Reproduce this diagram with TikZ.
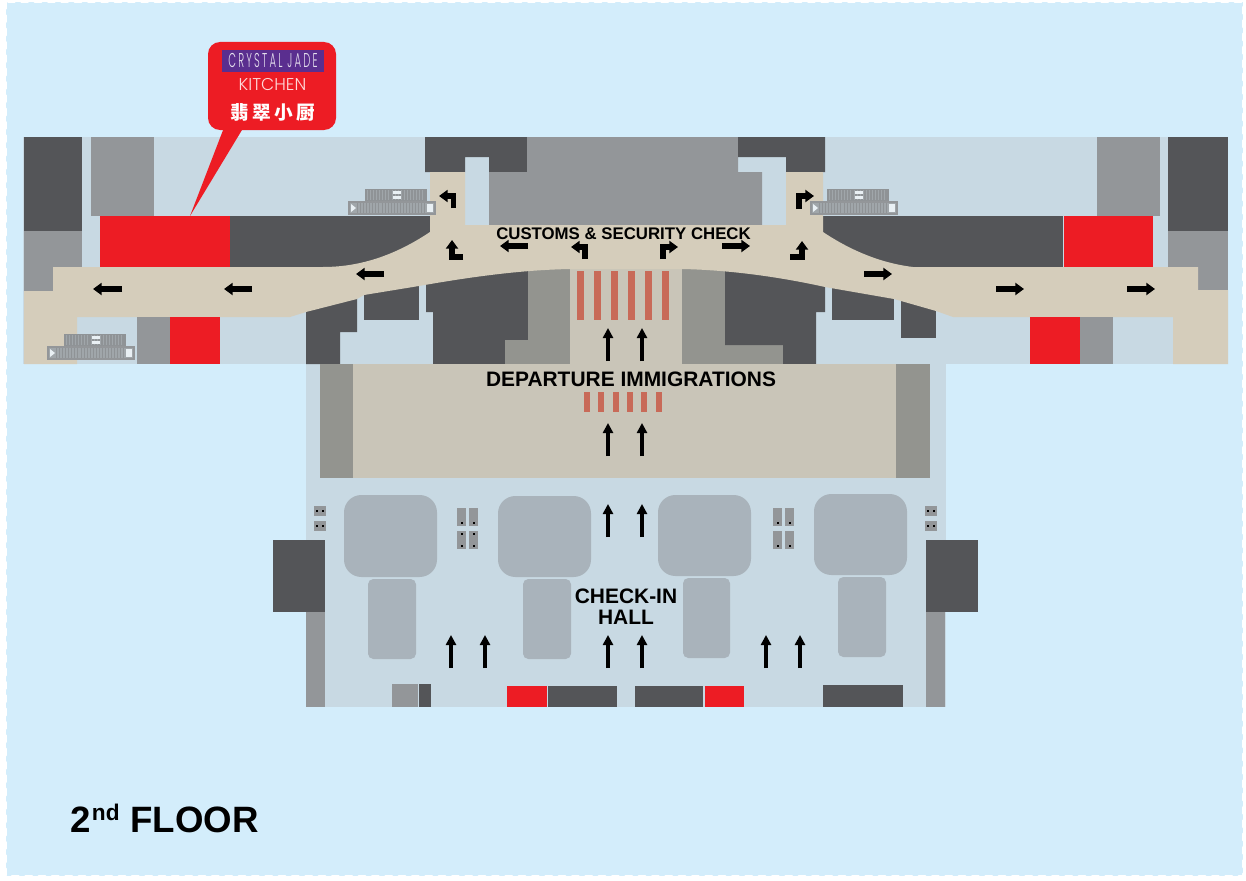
\documentclass[tikz,border=0pt]{standalone}
\usepackage{xcolor}
\usepackage{fontspec}
\setmainfont{Liberation Sans}
\newfontfamily\logofont[FakeStretch=0.5,LetterSpace=11]{Poppins Light}
\newfontfamily\kitchenfont{Poppins Light}
\newfontfamily\cjkfont{Noto Sans CJK SC}
\usetikzlibrary{arrows.meta}
\definecolor{sky}{HTML}{D3EDFB}
\definecolor{floorblue}{HTML}{C8D9E3}
\definecolor{blockdark}{HTML}{545558}
\definecolor{blockgrey}{HTML}{939699}
\definecolor{blockwarm}{HTML}{93948F}
\definecolor{road}{HTML}{D5CDBB}
\definecolor{aisle}{HTML}{C9C5B8}
\definecolor{shopred}{HTML}{ED1C24}
\definecolor{counter}{HTML}{A9B3BB}
\definecolor{stripe}{HTML}{C86A58}
\definecolor{logopurple}{HTML}{5A2E8F}
\definecolor{treadlight}{HTML}{A0A6AA}
\definecolor{treaddark}{HTML}{8F9396}

\begin{document}
\begin{tikzpicture}[
    x=0.75pt, y=-0.75pt,
    darkblock/.style={fill=blockdark},
    greyblock/.style={fill=blockgrey},
    warmblock/.style={fill=blockwarm},
    shop/.style={fill=shopred},
    desk/.style={fill=counter, rounded corners=13pt},
    belt/.style={fill=counter, rounded corners=4pt},
    gate/.style={fill=stripe},
    walk/.style={line width=3pt, -{Triangle[length=7.5pt,width=7.5pt]}},
    flow/.style={line width=3.8pt, -{Triangle[length=6.5pt,width=9pt]}},
    label/.style={font=\bfseries\fontsize{15.7}{15.8}\selectfont, align=center, inner sep=0pt}
]
\useasboundingbox (0,0) rectangle (1246,881);

% Page
\fill[sky] (6,2) rectangle (1243,876);
\draw[white, line width=1.5pt, dash pattern=on 5pt off 5pt, line cap=round] (6,2) rectangle (1243,876);

% Floor plates
\fill[floorblue] (23,137) rectangle (1228,364);
\fill[floorblue] (306,364) rectangle (946,707);

% Upper blocks, left
\fill[darkblock] (24,137) rectangle (82,231);
\fill[greyblock] (24,231) rectangle (82,291);
\fill[greyblock] (91,137) rectangle (154,216);
\fill[shop] (100,216) rectangle (230,267);
\fill[darkblock] (230,216) rectangle (430,267);
\fill[darkblock] (425,137) -- (527,137) -- (527,172) -- (489,172) -- (489,157) -- (465,157) -- (465,172) -- (425,172) -- cycle;

% Upper blocks, middle
\fill[greyblock] (527,137) -- (738,137) -- (738,172) -- (762,172) -- (762,225) -- (489,225) -- (489,172) -- (527,172) -- cycle;
\fill[darkblock] (738,137) -- (825,137) -- (825,172) -- (786,172) -- (786,157) -- (738,157) -- cycle;

% Upper blocks, right
\fill[darkblock] (823,216) rectangle (1063,267);
\fill[shop] (1064,216) rectangle (1153,267);
\fill[greyblock] (1097,137) rectangle (1160,216);
\fill[darkblock] (1168,137) rectangle (1228,231);
\fill[greyblock] (1168,231) rectangle (1228,291);

% Lower blocks under the road
\fill[darkblock] (306,300) -- (357,290) -- (357,332) -- (340,332) -- (340,364) -- (306,364) -- cycle;
\fill[darkblock] (364,280) rectangle (419,320);
\fill[darkblock] (426,270) -- (528,265) -- (528,340) -- (505,340) -- (505,364) -- (433,364) -- (433,312) -- (426,312) -- cycle;
\fill[warmblock] (528,262) -- (570,262) -- (570,364) -- (505,364) -- (505,340) -- (528,340) -- cycle;
\fill[warmblock] (682,262) -- (725,262) -- (725,345) -- (783,345) -- (783,364) -- (682,364) -- cycle;
\fill[darkblock] (725,265) -- (825,275) -- (825,312) -- (816,312) -- (816,364) -- (783,364) -- (783,345) -- (725,345) -- cycle;
\fill[darkblock] (832,280) rectangle (894,320);
\fill[darkblock] (901,290) rectangle (936,338);
\fill[aisle] (570,262) rectangle (682,364);

% Road
\fill[road] (53,267) -- (323,267) .. controls (365,267) and (400,252) .. (430,232) -- (430,172) -- (465,172) -- (465,225)
    -- (786,225) -- (786,172) -- (823,172) -- (823,232) .. controls (850,250) and (880,263) .. (913,267)
    -- (1198,267) -- (1198,290) -- (1228,290) -- (1228,364) -- (1173,364) -- (1173,317) -- (953,317)
    -- (936,311) -- (894,299) -- (825,287) .. controls (780,277) and (730,270) .. (682,269) -- (570,269)
    .. controls (520,270) and (470,277) .. (419,286) -- (364,295) -- (357,299) -- (306,312) -- (290,317)
    -- (77,317) -- (77,364) -- (24,364) -- (24,291) -- (53,291) -- cycle;

% Units beside the road
\fill[greyblock] (137,317) rectangle (170,364);
\fill[shop] (170,317) rectangle (220,364);
\fill[shop] (1030,317) rectangle (1080,364);
\fill[greyblock] (1080,317) rectangle (1113,364);

% Escalators
\foreach \ex/\ey in {349/189, 48/334, 811/189} {
    \fill[treaddark] (\ex+16,\ey) rectangle (\ex+78,\ey+12);
    \draw[treadlight, line width=8pt, dash pattern=on 0.5pt off 1.8pt] (\ex+18,\ey+6) -- (\ex+76,\ey+6);
    \fill[floorblue!40!white] (\ex+44,\ey+2) rectangle (\ex+52,\ey+5);
    \fill[floorblue!40!white] (\ex+44,\ey+7) rectangle (\ex+52,\ey+10);
    \draw[blockgrey, fill=treadlight, line width=1pt] (\ex,\ey+13) rectangle (\ex+86,\ey+25);
    \draw[treaddark, line width=7pt, dash pattern=on 0.5pt off 1.8pt] (\ex+8,\ey+19) -- (\ex+78,\ey+19);
    \fill[floorblue!40!white] (\ex+2,\ey+15) -- (\ex+7,\ey+19) -- (\ex+2,\ey+23) -- cycle;
    \fill[floorblue!40!white] (\ex+78,\ey+15) rectangle (\ex+84,\ey+23);
}

% Gate stripes
\foreach \gx in {577,594,611,628,645,662}
    \fill[gate] (\gx,271) rectangle (\gx+7,320);

% Departure immigrations
\fill[aisle] (320,364) rectangle (930,478);
\fill[warmblock] (320,364) rectangle (353,478);
\fill[warmblock] (896,364) rectangle (930,478);
\foreach \gx in {584,598,613,627,641,656}
    \fill[gate] (\gx,392) rectangle (\gx+6,412);

% Check-in desks
\fill[desk] (344,495) rectangle (437,577);
\fill[desk] (498,496) rectangle (591,577);
\fill[desk] (658,495) rectangle (751,576);
\fill[desk] (814,494) rectangle (907,575);
\fill[belt] (368,579) rectangle (416,659);
\fill[belt] (523,579) rectangle (571,659);
\fill[belt] (683,578) rectangle (730,658);
\fill[belt] (838,577) rectangle (886,657);

% Side wings
\fill[darkblock] (273,540) rectangle (325,612);
\fill[greyblock] (306,612) rectangle (325,707);
\fill[darkblock] (926,540) rectangle (978,612);
\fill[greyblock] (926,612) rectangle (945,707);

% Shops along the bottom
\fill[greyblock] (392,684) rectangle (418,707);
\fill[darkblock] (419,684) rectangle (431,707);
\fill[shop] (507,686) rectangle (547,707);
\fill[darkblock] (548,686) rectangle (617,707);
\fill[darkblock] (635,686) rectangle (703,707);
\fill[shop] (705,686) rectangle (744,707);
\fill[darkblock] (823,685) rectangle (903,707);

% Small kiosks
\foreach \kx in {314,925}
    \foreach \ky in {506,521} {
        \fill[blockgrey] (\kx,\ky) rectangle (\kx+12,\ky+10);
        \fill[black] (\kx+2,\ky+4) rectangle (\kx+4,\ky+6);
        \fill[black] (\kx+8,\ky+4) rectangle (\kx+10,\ky+6);
    }
\foreach \kx in {457,469,773,785}
    \foreach \ky in {508,531} {
        \fill[blockgrey] (\kx,\ky) rectangle (\kx+9,\ky+18);
        \fill[black] (\kx+3.5,\ky+14) rectangle (\kx+5.5,\ky+16);
    }
\foreach \kx in {457,469}
    \fill[black] (\kx+3.5,533) rectangle (\kx+5.5,535);

% Walking arrows
\foreach \ax/\ay in {608/361, 642/361, 608/456, 642/456, 608/537, 642/537, 608/668, 642/668, 451/668, 485/668, 766/668, 800/668}
    \draw[walk] (\ax,\ay) -- (\ax,\ay-33);

% Road arrows
\foreach \ax/\bx/\ay in {122/93/289, 252/224/289, 384/356/274, 528/500/246, 722/750/246, 864/892/274, 996/1024/289, 1127/1155/289}
    \draw[flow] (\ax,\ay) -- (\bx,\ay);
\draw[flow] (453.5,208) -- (453.5,196) -- (439,196);
\draw[flow] (463,257) -- (452,257) -- (452,240);
\draw[flow] (585,259) -- (585,247) -- (571,247);
\draw[flow] (663,259) -- (663,247) -- (678,247);
\draw[flow] (799,209) -- (799,196) -- (814,196);
\draw[flow] (790,257) -- (802,257) -- (802,241);

% Labels
\node[label, font=\bfseries\fontsize{12.6}{14}\selectfont] (customs) at (623.5,234) {CUSTOMS \& SECURITY CHECK};
\node[label] (immigrations) at (631,379) {DEPARTURE IMMIGRATIONS};
\node[label] (checkin) at (626,606.5) {CHECK-IN\\HALL};
\node[label, font=\bfseries\fontsize{27.5}{30}\selectfont, anchor=base west] (floor) at (70,832) {2\kern1pt\raisebox{8.5pt}{\fontsize{17}{18}\selectfont nd}\kern8pt FLOOR};

% Callout
\fill[shopred] (225,125) -- (245,125) -- (190,216) -- cycle;
\fill[shopred, rounded corners=9pt] (208,42) rectangle (336,130);
\fill[logopurple] (222,50) rectangle (324,72);
\node[font=\logofont\fontsize{15}{16}\selectfont, text=white!85!logopurple, inner sep=0pt] (brand) at (273,61) {CRYSTAL JADE};
\node[font=\kitchenfont\fontsize{12.8}{14}\selectfont, text=red!15!white, inner sep=0pt] (kitchen) at (272.5,85) {KITCHEN};
\node[font=\cjkfont\bfseries\fontsize{14}{16}\selectfont, text=white, inner sep=0pt] (hanzi) at (273,112) {翡\kern2.5pt 翠\kern2.5pt 小\kern2.5pt 厨};

\end{tikzpicture}
\end{document}
